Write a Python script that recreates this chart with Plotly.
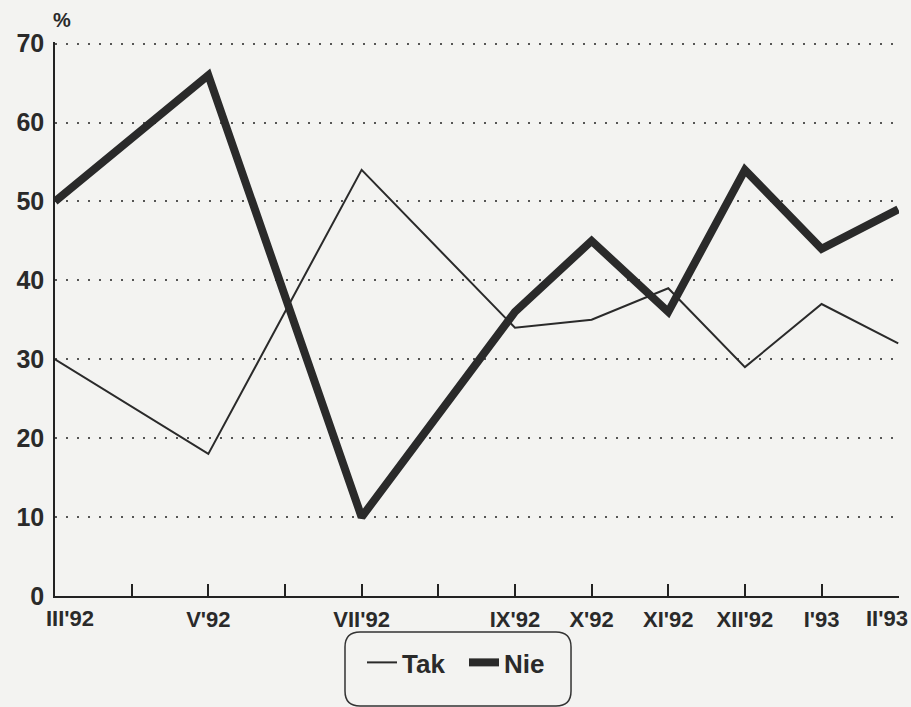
import plotly.graph_objects as go

# month index: 0 = III'92 ... 11 = II'93
months = [0, 2, 4, 6, 7, 8, 9, 10, 11]
tak = [30, 18, 54, 34, 35, 39, 29, 37, 32]
nie = [50, 66, 10, 36, 45, 36, 54, 44, 49]

tick_vals = list(range(12))
tick_labels = ["III'92", "", "V'92", "", "VII'92", "", "IX'92",
               "X'92", "XI'92", "XII'92", "I'93", "II'93"]
y_ticks = [0, 10, 20, 30, 40, 50, 60, 70]

ink = "#2a2a2a"
bg = "#f3f3f1"
font = "Liberation Sans"

fig = go.Figure()
fig.add_trace(go.Scatter(x=months, y=tak, mode="lines", name="Tak",
                         line=dict(color=ink, width=2)))
fig.add_trace(go.Scatter(x=months, y=nie, mode="lines", name="Nie",
                         line=dict(color=ink, width=8)))

# end labels are drawn shifted inward (as in the original), the rest as tick labels
tick_text = [""] + tick_labels[1:-1] + [""]
for val, lab, shift in [(tick_vals[0], tick_labels[0], 15), (tick_vals[-1], tick_labels[-1], -11)]:
    fig.add_annotation(text=f"<b>{lab}</b>", x=val, xref="x", y=-(618 - 596) / 554,
                       yref="paper", xanchor="center", yanchor="middle", xshift=shift,
                       showarrow=False, font=dict(family=font, size=22, color=ink))

# rounded legend frame (paper coords)
x0, x1 = 0.3436, 0.6114
y0, y1 = -0.1986, -0.065
rx, ry = 0.0178, 0.0271
path = (f"M {x0+rx},{y1} L {x1-rx},{y1} Q {x1},{y1} {x1},{y1-ry} "
        f"L {x1},{y0+ry} Q {x1},{y0} {x1-rx},{y0} L {x0+rx},{y0} "
        f"Q {x0},{y0} {x0},{y0+ry} L {x0},{y1-ry} Q {x0},{y1} {x0+rx},{y1} Z")
fig.add_shape(type="path", path=path, xref="paper", yref="paper",
              line=dict(color="#333333", width=1.5), layer="below")

fig.add_annotation(text="<b>%</b>", xref="paper", yref="paper",
                   x=(62 - 55) / 844, y=1 + (42 - 20) / 554,
                   xanchor="center", yanchor="middle", showarrow=False,
                   font=dict(family=font, size=20, color=ink))

fig.update_layout(
    width=911, height=707,
    margin=dict(l=55, r=12, t=42, b=111, autoexpand=False),
    paper_bgcolor=bg, plot_bgcolor=bg,
    font=dict(family=font, color=ink),
    showlegend=True,
    legend=dict(orientation="h", x=(362 - 55) / 844, y=-0.12, xanchor="left",
                yanchor="middle",
                bgcolor="rgba(0,0,0,0)", borderwidth=0,
                font=dict(family=font, size=26, color=ink, weight="bold"),
                entrywidth=57, entrywidthmode="pixels", tracegroupgap=0),
    xaxis=dict(range=[0, 11.01], tickvals=tick_vals, ticktext=tick_text,
               automargin=False,
               showgrid=False, zeroline=False, showline=True, linecolor="#222222",
               linewidth=1.5, ticks="inside", ticklen=12, tickwidth=1.5,
               tickcolor="#222222", ticklabelstandoff=3,
               tickfont=dict(family=font, size=22, color=ink, weight="bold")),
    yaxis=dict(range=[0, 70.2], tickvals=y_ticks, showgrid=True, automargin=False,
               gridcolor="#555555", gridwidth=2, griddash="2px,9px",
               zeroline=False, showline=True, linecolor="#222222", linewidth=1.5,
               ticks="", ticklabelstandoff=4,
               tickfont=dict(family=font, size=25, color=ink, weight="bold")),
)

fig.write_html("out.html", config={"displayModeBar": False},
               post_script="document.body.style.margin='0';")
